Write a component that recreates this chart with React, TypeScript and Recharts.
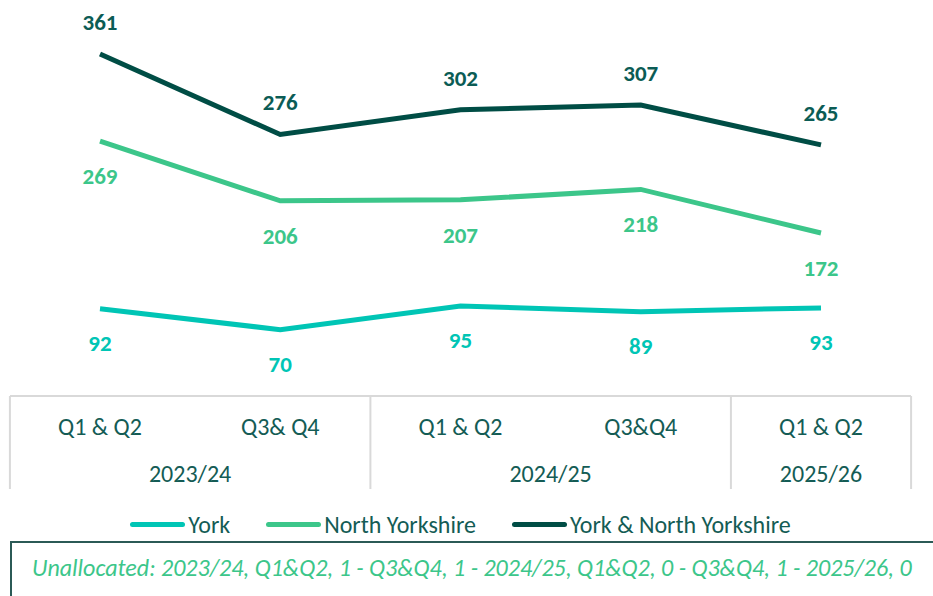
import { LineChart, Line, XAxis, YAxis, Legend } from 'recharts'

// ── Data ──────────────────────────────────────────────────────────────────────

const quarters = ['Q1 & Q2', 'Q3& Q4', 'Q1 & Q2', 'Q3&Q4', 'Q1 & Q2']
const years    = ['2023/24', '2023/24', '2024/25', '2024/25', '2025/26']
const york           = [92, 70, 95, 89, 93]
const northYorkshire = [269, 206, 207, 218, 172]
const combined       = [361, 276, 302, 307, 265]
const seriesNames    = ['York', 'North Yorkshire', 'York & North Yorkshire']
const note = 'Unallocated: 2023/24, Q1&Q2, 1 - Q3&Q4, 1 - 2024/25, Q1&Q2, 0 - Q3&Q4, 1 - 2025/26, 0'

const data = quarters.map((q, i) => ({
  q,
  year: years[i],
  [seriesNames[0]]: york[i],
  [seriesNames[1]]: northYorkshire[i],
  [seriesNames[2]]: combined[i],
}))

// ── Styles ────────────────────────────────────────────────────────────────────

const FONT     = "Carlito, Calibri, Lato, 'Open Sans', sans-serif"
const FS       = 24
const C_YORK   = '#00c5b5'
const C_NY     = '#3cc68a'
const C_BOTH   = '#004d45'
const C_TEXT   = '#145c55'
const C_GRID   = '#d9d9d9'
const HALF_BAND = 90

// ── Axis tick: quarter label + year group + table lines ───────────────────────

function TableTick(props: any) {
  const { x, y, payload, width, visibleTicksCount } = props
  const i    = payload.index ?? props.index
  const half = payload.offset || width / (2 * visibleTicksCount)
  const left = x - half
  const isGroupStart = i === 0 || years[i] !== years[i - 1]
  const isLast = i === years.length - 1
  let groupLen = 1
  while (years[i + groupLen] === years[i]) groupLen++
  const rowH = 93

  return (
    <g>
      {isGroupStart && <line x1={left} x2={left} y1={y} y2={y + rowH} stroke={C_GRID} strokeWidth={2} />}
      {isLast && <line x1={x + half} x2={x + half} y1={y} y2={y + rowH} stroke={C_GRID} strokeWidth={2} />}
      <text x={x} y={y + 30} textAnchor="middle" dominantBaseline="central" fill={C_TEXT} fontSize={FS} fontFamily={FONT}>
        {payload.value}
      </text>
      {isGroupStart && (
        <text x={left + groupLen * half} y={y + 77} textAnchor="middle" dominantBaseline="central" fill={C_TEXT} fontSize={FS} fontFamily={FONT}>
          {years[i]}
        </text>
      )}
    </g>
  )
}

function makeLabel(color: string, dy: number) {
  return (p: any) => (
    <text x={p.x} y={p.y + dy} textAnchor="middle" dominantBaseline="central" fill={color} fontSize={23} fontWeight={700} fontFamily={FONT}>
      {p.value}
    </text>
  )
}

function LegendContent({ payload }: any) {
  const items = seriesNames.map(n => (payload || []).find((e: any) => e.value === n)).filter(Boolean)
  return (
    <div style={{ display: 'flex', justifyContent: 'center', alignItems: 'center', paddingTop: 20, gap: 36, fontFamily: FONT, fontSize: FS, color: C_TEXT }}>
      {items.map((e: any) => (
        <div key={e.value} style={{ display: 'flex', alignItems: 'center' }}>
          <span style={{ display: 'inline-block', width: 55, height: 5, borderRadius: 3, background: e.color, marginRight: 3 }} />
          <span>{e.value}</span>
        </div>
      ))}
    </div>
  )
}

export default function App() {
  return (
    <div style={{ position: 'absolute', left: 0, top: 0, width: 933, height: 596, overflow: 'hidden', background: '#fff' }}>
      <LineChart width={933} height={545} data={data} margin={{ top: 17, right: 22, left: 10, bottom: 5 }}>
        <XAxis
          dataKey="q"
          padding={{ left: HALF_BAND, right: HALF_BAND }}
          height={94}
          tickSize={0}
          tickMargin={0}
          tickLine={false}
          axisLine={{ stroke: C_GRID, strokeWidth: 2 }}
          tick={<TableTick />}
          interval={0}
        />
        <YAxis hide domain={[0, 400]} />
        <Legend verticalAlign="bottom" height={50} content={<LegendContent />} />
        <Line dataKey={seriesNames[0]} stroke={C_YORK} strokeWidth={5} dot={false} isAnimationActive={false} label={makeLabel(C_YORK, 34)} />
        <Line dataKey={seriesNames[1]} stroke={C_NY} strokeWidth={5} dot={false} isAnimationActive={false} label={makeLabel(C_NY, 35)} />
        <Line dataKey={seriesNames[2]} stroke={C_BOTH} strokeWidth={5} dot={false} isAnimationActive={false} label={makeLabel('#0b5c55', -32)} />
      </LineChart>
      <div style={{ position: 'absolute', left: 10, top: 541, width: 960, height: 80, border: '2px solid #2b5a56', boxSizing: 'border-box', paddingLeft: 20, paddingTop: 10 }}>
        <span style={{ fontFamily: FONT, fontStyle: 'italic', fontSize: FS, color: C_NY }}>{note}</span>
      </div>
    </div>
  )
}
